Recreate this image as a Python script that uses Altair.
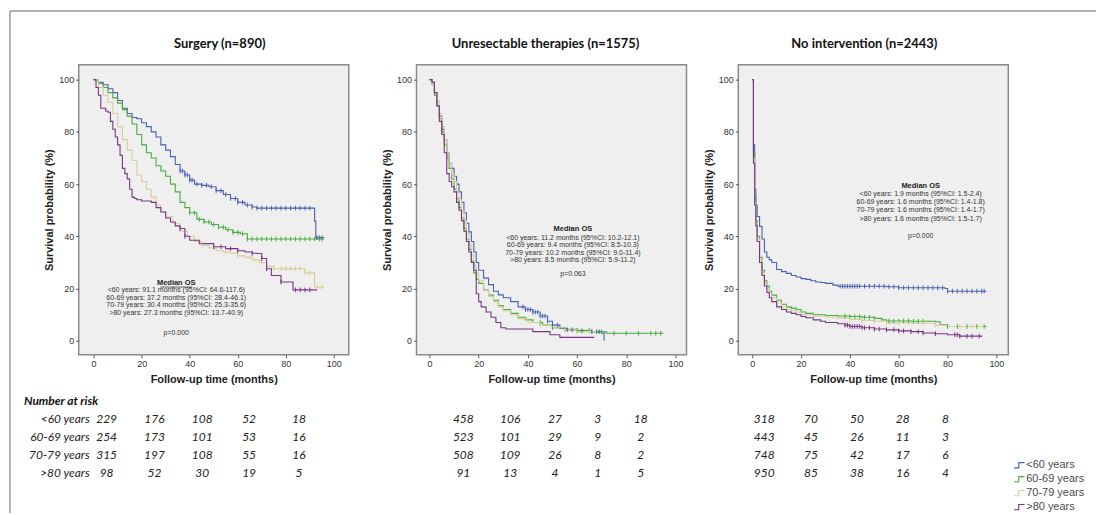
import altair as alt
import pandas as pd

GROUPS = ["<60 years", "60-69 years", "70-79 years", ">80 years"]
COLORS = ["#4b5fb4", "#46ad40", "#d8ce98", "#7a3485"]
PANEL_TITLES = ["Surgery (n=890)", "Unresectable therapies (n=1575)", "No intervention (n=2443)"]

# ---------------- Surgery ----------------
sur_a_t = [0, 2, 4, 6, 8, 10, 12, 14, 16, 18, 20, 22, 24, 26, 28, 30, 32, 34, 36, 38, 40, 42, 45, 48, 51, 54, 57, 60, 63, 66, 68, 92, 92.5, 96]
sur_a_s = [100, 99, 98, 96.5, 95, 92, 89, 87, 85.5, 85, 83.5, 82, 80, 78, 75, 73, 70.5, 67.5, 65, 63.5, 61.5, 60, 59.5, 59, 57.5, 56, 54.5, 53, 52, 51.2, 50.8, 45.8, 39.5, 39.5]
sur_b_t = [0, 2, 4, 6, 8, 10, 12, 14, 16, 18, 20, 22, 24, 26, 28, 30, 32, 34, 36, 38, 40, 43, 46, 49, 52, 55, 58, 61, 64, 96]
sur_b_s = [100, 98.5, 97, 95, 93, 91, 88.5, 86, 83, 79, 75, 72, 70, 67, 65, 63, 60, 57, 53, 51, 49, 46.5, 45.5, 44.5, 43.5, 42.5, 41.5, 41, 39, 39]
sur_c_t = [0, 2, 4, 6, 8, 10, 12, 14, 16, 18, 20, 22, 24, 26, 28, 30, 33, 36, 39, 42, 45, 48, 51, 54, 57, 60, 63, 66, 69, 72, 75, 88, 92, 96]
sur_c_s = [100, 97, 94, 91.3, 87, 82, 77, 73, 69, 63.5, 61, 58, 55, 52, 49.5, 47.5, 45, 42, 40, 38, 36.5, 35.5, 34.5, 34, 33.5, 32.5, 32, 31, 30, 28.5, 27.6, 26, 20.5, 20.5]
sur_d_t = [0, 1, 2, 3, 5, 6, 7, 8, 9, 10, 11, 12, 13, 14, 15, 16, 17, 18, 20, 24, 26, 28, 30, 32, 34, 36, 38, 40, 44, 50, 55, 60, 63, 66, 68, 70, 72, 74, 78, 83, 93]
sur_d_s = [100, 97, 94, 89, 88, 87.5, 84, 81, 78, 75, 71, 66, 64, 62, 58, 55, 54.5, 54, 53.5, 53, 51, 49.3, 47, 45.5, 44, 43, 40, 38.5, 37.2, 36, 35.3, 34.5, 34, 33.5, 33.4, 31.5, 27.6, 25, 22.5, 19.5, 19.5]

# ---------------- Unresectable therapies ----------------
unr_a_t = [0, 1, 2, 3, 4, 5, 6, 7, 8, 9, 10, 11, 12, 13, 14, 15, 16, 17, 18, 19, 20, 22, 24, 26, 28, 30, 33, 36, 39, 42, 45, 48, 50, 53, 56, 60, 65, 70, 71]
unr_a_s = [100, 99, 95, 90, 86, 81, 77, 72, 68, 66, 63, 60, 57, 53, 49, 45, 41.7, 38, 34, 30, 27, 24, 21.5, 19, 17.6, 16.5, 15, 13, 12, 11, 9.5, 7.5, 6, 4.7, 4.2, 3.8, 3.5, 3, 0]
unr_b_t = [0, 1, 2, 3, 4, 5, 6, 7, 8, 9, 10, 11, 12, 13, 14, 15, 16, 17, 18, 19, 20, 22, 24, 26, 28, 30, 33, 36, 39, 42, 46, 50, 55, 60, 66, 72, 95]
unr_b_s = [100, 98, 94, 90, 85, 80, 75, 70, 66, 62, 58, 54.5, 51, 47, 43, 39, 35, 30.5, 26, 23.5, 22, 19.5, 17.5, 15.5, 13.5, 12, 10.5, 9, 8, 7, 6, 5, 4.4, 4, 3.4, 2.9, 2.8]
unr_c_t = [0, 1, 2, 3, 4, 5, 6, 7, 8, 9, 10, 11, 12, 13, 14, 15, 16, 17, 18, 19, 20, 22, 24, 26, 28, 30, 33, 36, 40, 45, 50, 55, 60, 68]
unr_c_s = [100, 98, 95, 92, 87, 82, 77, 72, 68, 64, 61, 57, 54, 50, 46, 41, 37, 33, 29, 26, 23, 19.5, 17, 15, 13, 11.5, 10, 8.5, 7, 6, 5, 4.2, 3.5, 3]
unr_d_t = [0, 1, 2, 3, 4, 5, 6, 7, 8, 9, 10, 11, 12, 13, 14, 15, 16, 17, 18, 19, 20, 21, 23, 25, 27, 29, 31, 35, 42, 49, 53, 67]
unr_d_s = [100, 99, 95, 90, 84, 79, 72, 64, 61, 59, 57, 53, 50, 46, 42, 38, 34, 30, 27, 18, 15, 13, 11, 9, 7, 5, 4.5, 4.5, 3.5, 2.3, 1.3, 1.3]

# ---------------- No intervention ----------------
noi_a_t = [0, 0.5, 1, 1.5, 2, 3, 4, 5, 6, 7, 8, 10, 12, 14, 16, 18, 20, 22, 24, 26, 28, 30, 33, 35, 45, 55, 60, 70, 79, 80, 96]
noi_a_s = [100, 75, 58, 52, 47.6, 43.8, 39, 34, 32, 31, 30, 27.3, 26.5, 25.8, 25, 24.4, 23.8, 23.5, 23, 22.5, 22.3, 22, 21.3, 20.9, 20.9, 20.7, 20.3, 20.3, 20, 19, 19]
noi_b_t = [0, 0.5, 1, 1.5, 2, 3, 4, 5, 6, 7, 8, 10, 12, 14, 16, 18, 20, 22, 25, 30, 35, 40, 45, 50, 53, 55, 65, 75, 77, 80, 96]
noi_b_s = [100, 72, 55, 46, 40, 32, 27, 23, 21, 19, 17.5, 15.5, 14, 13, 12.5, 12, 11, 10.5, 10, 9.7, 9.5, 9.3, 9, 8.6, 8, 7.6, 7.5, 7.3, 6.2, 5.5, 5.5]
noi_c_t = [0, 0.5, 1, 1.5, 2, 3, 4, 5, 6, 7, 8, 10, 12, 14, 16, 18, 20, 25, 30, 35, 40, 45, 50, 55, 65, 75, 80, 95]
noi_c_s = [100, 70, 53, 45, 39, 31, 26, 22, 20, 18, 16.5, 14.5, 13, 12, 11.5, 11, 10, 9.5, 9, 8.7, 8.2, 7.8, 7.5, 6.8, 6.7, 6, 5.5, 5]
noi_d_t = [0, 0.5, 1, 1.5, 2, 3, 4, 5, 6, 7, 8, 10, 12, 14, 16, 18, 20, 22, 25, 28, 30, 35, 38, 40, 45, 50, 55, 60, 65, 70, 75, 80, 85, 94]
noi_d_s = [100, 68, 52, 44, 38, 30, 25, 21, 18.5, 16.5, 15, 13, 12, 11, 10.5, 10, 9.3, 8.8, 8, 7.5, 7, 6.5, 6, 5.5, 5, 4.5, 4.2, 3.8, 3.5, 3, 2.7, 2.3, 1.8, 1.5]

# censored observation times (tick marks)
sur_a_c = [36, 37, 38, 39, 40, 41, 43, 45, 47, 49, 51, 53, 55, 57, 59, 60, 62, 64, 66, 68, 70, 72, 74, 76, 78, 80, 82, 84, 86, 88, 90, 93, 94, 95]
sur_b_c = [40, 42, 44, 46, 48, 50, 52, 54, 56, 58, 60, 62, 64, 66, 68, 70, 72, 74, 76, 78, 80, 82, 84, 86, 88, 90, 92, 94, 95]
sur_c_c = [45, 50, 55, 60, 65, 70, 75, 78, 80, 82, 84, 86, 88, 90, 93, 95]
sur_d_c = [36, 38, 50, 53, 57, 60, 66, 70, 72, 78, 84, 86, 88, 90]
unr_a_c = [38, 39, 40, 41, 42, 43, 44, 45, 46, 47, 48, 50, 52, 56, 58, 62, 66, 68, 69]
unr_b_c = [45, 50, 55, 60, 65, 70, 75, 80, 85, 90, 92, 94]
unr_c_c = [45, 55, 60, 65]
unr_d_c = []
noi_a_c = [36, 37, 38, 39, 40, 41, 42, 43, 44, 46, 48, 50, 52, 54, 56, 58, 60, 62, 64, 66, 68, 70, 72, 74, 76, 78, 80, 82, 84, 86, 88, 90, 92, 94, 95]
noi_b_c = [38, 40, 42, 44, 46, 48, 50, 56, 58, 60, 62, 64, 66, 68, 70, 80, 84, 88, 92, 95]
noi_c_c = [40, 45, 50, 55, 60, 70, 75, 85, 90]
noi_d_c = [38, 39, 40, 41, 42, 43, 44, 45, 46, 48, 50, 52, 55, 58, 60, 62, 65, 68, 70, 75, 83, 84, 85, 88, 90, 93]

# Number at risk
risk_sur = [[229, 176, 108, 52, 18], [254, 173, 101, 53, 16], [315, 197, 108, 55, 16], [98, 52, 30, 19, 5]]
risk_unr = [[458, 106, 27, 3, 18], [523, 101, 29, 9, 2], [508, 109, 26, 8, 2], [91, 13, 4, 1, 5]]
risk_noi = [[318, 70, 50, 28, 8], [443, 45, 26, 11, 3], [748, 75, 42, 17, 6], [950, 85, 38, 16, 4]]

# Median OS annotations
ann_sur = ["<60 years: 91.1 months (95%CI: 64.6-117.6)", "60-69 years: 37.2 months (95%CI: 28.4-46.1)",
           "70-79 years: 30.4 months (95%CI: 25.3-35.6)", ">80 years: 27.3 months (95%CI: 13.7-40.9)", "p=0.000"]
ann_unr = ["<60 years: 11.2 months (95%CI: 10.2-12.1)", "60-69 years: 9.4 months (95%CI: 8.5-10.3)",
           "70-79 years: 10.2 months (95%CI: 9.0-11.4)", ">80 years: 8.5 months (95%CI: 5.9-11.2)", "p=0.063"]
ann_noi = ["<60 years: 1.9 months (95%CI: 1.5-2.4)", "60-69 years: 1.6 months (95%CI: 1.4-1.8)",
           "70-79 years: 1.6 months (95%CI: 1.4-1.7)", ">80 years: 1.6 months (95%CI: 1.5-1.7)", "p=0.000"]

# ---------------- layout (style) ----------------
W, H = 271, 291
XDOMS = [[-6.2, 106.2], [-5.3, 104.5], [-5.7, 104.9]]
YDOM = [-5.3, 105.7]
ANN_X = [34.4, 58.3, 69.0]
ANN_Y = [[22.3, 19.5, 16.4, 13.7, 10.7, 3.1], [42.9, 39.3, 36.6, 33.6, 30.9, 25.6], [59.4, 56.3, 53.2, 50.0, 46.8, 40.0]]
TAB_XPX = [[28, 76, 124, 171, 221], [47, 94, 139, 182, 225], [26, 73, 119, 165, 208]]  # column centres, px from plot left
TAB_YPX = [356, 374, 392, 410]  # row centres, px from plot top
TITLE_DX = [6, -6, -9]

curves = [
    [(sur_a_t, sur_a_s, sur_a_c), (sur_b_t, sur_b_s, sur_b_c), (sur_c_t, sur_c_s, sur_c_c), (sur_d_t, sur_d_s, sur_d_c)],
    [(unr_a_t, unr_a_s, unr_a_c), (unr_b_t, unr_b_s, unr_b_c), (unr_c_t, unr_c_s, unr_c_c), (unr_d_t, unr_d_s, unr_d_c)],
    [(noi_a_t, noi_a_s, noi_a_c), (noi_b_t, noi_b_s, noi_b_c), (noi_c_t, noi_c_s, noi_c_c), (noi_d_t, noi_d_s, noi_d_c)],
]
risks = [risk_sur, risk_unr, risk_noi]
anns = [ann_sur, ann_unr, ann_noi]


def step_at(ts, ss, c):
    v = ss[0]
    for t, s in zip(ts, ss):
        if t <= c:
            v = s
        else:
            break
    return v


cscale = alt.Scale(domain=GROUPS, range=COLORS)
legend = alt.Legend(orient="none", legendX=938, legendY=396, title=None,
                    symbolType="M-1,0.5H-0.1V-0.5H1", symbolSize=110, symbolStrokeWidth=1.1,
                    labelFont="Liberation Sans", labelFontSize=11, labelColor="#4a4a4a",
                    rowPadding=3, labelOffset=1, labelLimit=200)

AX_FONT = "Liberation Sans"


def make_panel(i):
    rows, crows = [], []
    for g, (ts, ss, cs) in zip(GROUPS, curves[i]):
        for k, (t, s) in enumerate(zip(ts, ss)):
            rows.append({"group": g, "t": t, "s": s, "k": k})
        for c in cs:
            crows.append({"group": g, "t": c, "s": step_at(ts, ss, c)})
    cdf = pd.DataFrame(rows)
    cens = pd.DataFrame(crows, columns=["group", "t", "s"])

    d0, d1 = XDOMS[i]
    xs = alt.Scale(domain=XDOMS[i], nice=False, zero=False)
    ys = alt.Scale(domain=YDOM, nice=False, zero=False)
    common = dict(domain=False, grid=False, tickColor="#555555", tickSize=3, labelFontSize=9,
                  labelColor="#333333", labelFont=AX_FONT, titleFont=AX_FONT, titleFontSize=11,
                  titleFontWeight="bold", titleColor="#222222", labelPadding=2)
    xaxis = alt.Axis(values=[0, 20, 40, 60, 80, 100], titlePadding=5, **common)
    yaxis = alt.Axis(values=[0, 20, 40, 60, 80, 100], titlePadding=4, **common)
    X = alt.X("t:Q", scale=xs, axis=xaxis, title="Follow-up time (months)")
    Y = alt.Y("s:Q", scale=ys, axis=yaxis, title="Survival probability (%)")

    lines = alt.Chart(cdf).mark_line(interpolate="step-after", strokeWidth=1.1).encode(
        x=X, y=Y, color=alt.Color("group:N", scale=cscale, legend=legend),
        detail="group:N", order="k:Q")
    ticks = alt.Chart(cens).mark_point(shape="M0,-1V1", size=22, strokeWidth=1.0, filled=False, opacity=1).encode(
        x=X, y=Y, color=alt.Color("group:N", scale=cscale, legend=legend))

    adf = pd.DataFrame({"t": [ANN_X[i]] * 6, "s": ANN_Y[i], "txt": ["Median OS"] + anns[i]})
    ann_head = alt.Chart(adf.iloc[:1]).mark_text(font=AX_FONT, fontSize=7.5, fontWeight="bold",
                                                 color="#222222").encode(x=X, y=Y, text="txt:N")
    ann_body = alt.Chart(adf.iloc[1:]).mark_text(font=AX_FONT, fontSize=7, color="#333333").encode(
        x=X, y=Y, text="txt:N")
    layers = [lines, ticks, ann_head, ann_body]
    if i == 0:
        ul = alt.Chart(adf.iloc[:1]).mark_rule(color="#222222", strokeWidth=0.7,
                                               xOffset=-16, x2Offset=16, yOffset=4.5, y2Offset=4.5).encode(
            x=X, x2=alt.X2("t:Q"), y=Y)
        layers.append(ul)

    # number at risk table (positions converted from layout pixels to the panel's data units)
    trows = []
    for r, vals in enumerate(risks[i]):
        for c, v in enumerate(vals):
            trows.append({"t": d0 + TAB_XPX[i][c] / W * (d1 - d0),
                          "s": YDOM[1] - TAB_YPX[r] / H * (YDOM[1] - YDOM[0]), "v": str(v)})
    tdf = pd.DataFrame(trows)
    tab = alt.Chart(tdf).mark_text(font="Lato", fontStyle="italic", fontSize=12, color="#222222").encode(
        x=X, y=Y, text="v:N")
    layers.append(tab)
    if i == 0:
        ldf = pd.DataFrame({"s": [YDOM[1] - p / H * (YDOM[1] - YDOM[0]) for p in TAB_YPX], "lab": GROUPS})
        labs = alt.Chart(ldf).mark_text(font="Lato", fontStyle="italic", fontSize=12, color="#222222",
                                        align="right").encode(x=alt.value(11), y=Y, text="lab:N")
        one = pd.DataFrame({"lab": ["Number at risk"]})
        head = alt.Chart(one).mark_text(font="Lato", fontStyle="italic", fontWeight="bold", fontSize=12,
                                        color="#111111", align="left").encode(
            x=alt.value(-55), y=alt.value(338), text="lab:N")
        layers += [labs, head]

    return alt.layer(*layers).properties(
        width=W, height=H,
        title=alt.TitleParams(PANEL_TITLES[i], font="Lato", fontSize=13, fontWeight="bold", color="#111111",
                              offset=14, anchor="middle", dx=TITLE_DX[i]))


def spacer(w, frame=False):
    one = pd.DataFrame({"a": [0]})
    layers = [alt.Chart(one).mark_point(opacity=0).encode(x=alt.value(0), y=alt.value(0))]
    if frame:
        # outer frame of the figure (left and top edges), drawn relative to this spacer's origin
        left_px = 77 + W + 17          # spacer's left edge on the page
        layers.append(alt.Chart(one).mark_rule(color="#9a9a9a", strokeWidth=1.5).encode(
            x=alt.value(8 - left_px), y=alt.value(8 - 62), y2=alt.value(512 - 62)))
        layers.append(alt.Chart(one).mark_rule(color="#9a9a9a", strokeWidth=1.5).encode(
            x=alt.value(8 - left_px), x2=alt.value(1098 - left_px), y=alt.value(8 - 62)))
    return alt.layer(*layers).properties(
        width=w, height=H, view=alt.ViewBackground(fill="transparent", stroke="transparent"))


p1, p2, p3 = make_panel(0), make_panel(1), make_panel(2)
chart = alt.HConcatChart(hconcat=[p1, spacer(34, frame=True), p2, spacer(18), p3], spacing=17,
                         bounds="flush").properties(
    padding={"left": 8, "top": 8, "right": 0, "bottom": 0},
    background="white",
).configure_view(fill="#efefef", stroke="#8a8a8a", strokeWidth=1.5)

chart.save("out.html", embed_options={"renderer": "svg", "actions": False})
